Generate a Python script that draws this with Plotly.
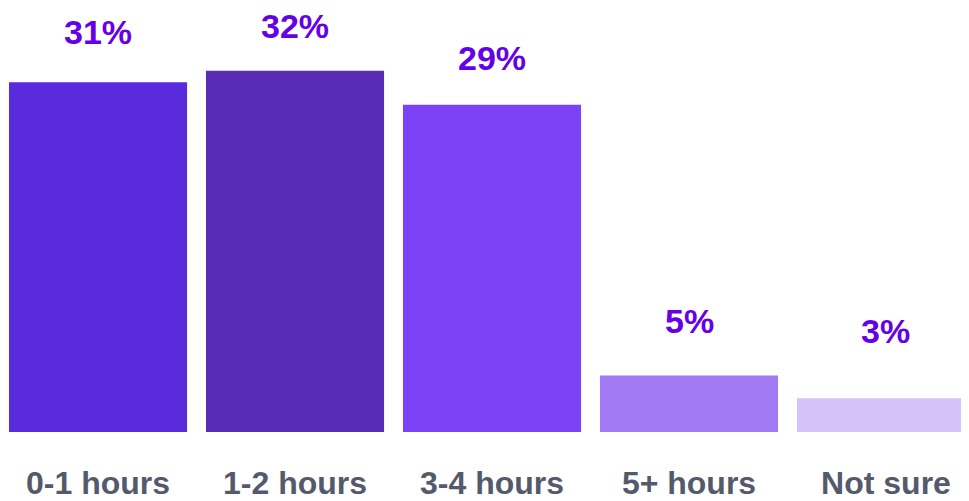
import plotly.graph_objects as go

categories = ["0-1 hours", "1-2 hours", "3-4 hours", "5+ hours", "Not sure"]
values = [31, 32, 29, 5, 3]
labels = ["31%", "32%", "29%", "5%", "3%"]

bar_colors = ["#5a2bdd", "#582cb5", "#7c43f6", "#a079f3", "#d6c2fb"]
label_offsets = [50, 45, 47, 55, 67]

fig = go.Figure(go.Bar(
    x=categories, y=values, marker=dict(color=bar_colors, line=dict(width=0)),
    hoverinfo="skip",
))

for c, v, t, off in zip(categories, values, labels, label_offsets):
    fig.add_annotation(x=c, y=v, text=t, showarrow=False, yanchor="middle",
                       yshift=off,
                       font=dict(family="Liberation Sans, Arial", size=34, color="#6600e6"))

fig.update_layout(
    width=969, height=493,
    margin=dict(l=0, r=0, t=0, b=67),
    paper_bgcolor="white", plot_bgcolor="white",
    bargap=0.096, showlegend=False,
    xaxis=dict(range=[-0.457, 4.462], showgrid=False, zeroline=False, showline=False,
               ticks="", ticklabelstandoff=29,
               tickfont=dict(family="Liberation Sans, Arial", size=32, color="#545a6c")),
    yaxis=dict(range=[0, 37.57], visible=False),
)
fig.update_xaxes(tickfont_weight="bold")
for a in fig.layout.annotations:
    a.font.weight = "bold"

fig.write_html("out.html")
